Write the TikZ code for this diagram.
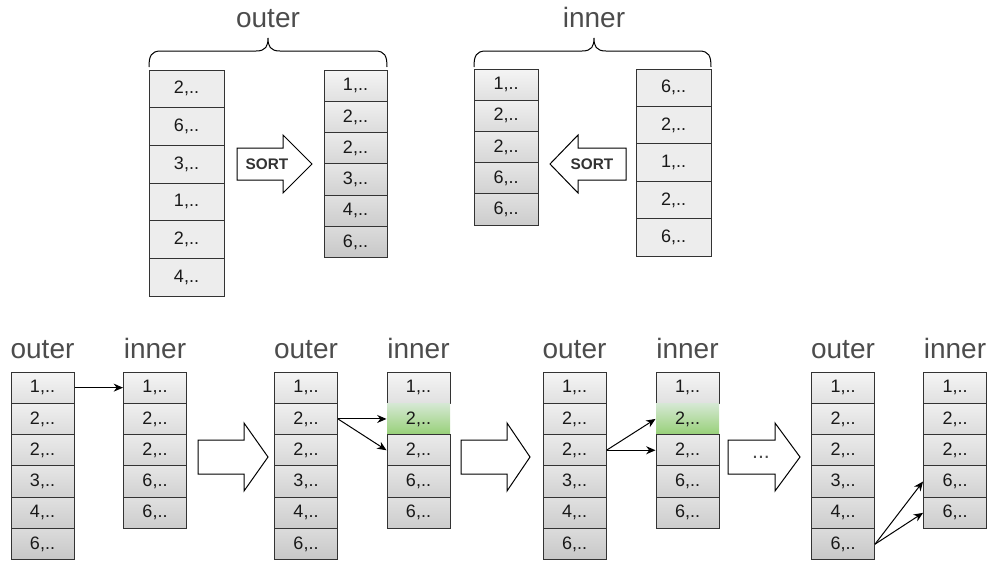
\documentclass[tikz,border=0pt]{standalone}
\usepackage{fontspec}
\setmainfont{Liberation Sans}
\usetikzlibrary{arrows.meta}

\definecolor{hittop}{HTML}{D5E8D4}
\definecolor{hitbot}{HTML}{97D077}
\newcommand{\px}{0.75pt}

\tikzset{
  cell/.style={rectangle, draw=black!80, line width=0.75pt, inner sep=0pt,
    text=black!90, font=\fontsize{13.5}{16}\selectfont},
  plain/.style={cell, fill=black!7},
  sorted/.style={cell, top color=black!\shtop, bottom color=black!\shbot},
  hit/.style={cell, draw=none, top color=hittop, bottom color=hitbot},
  title/.style={anchor=base, text=black!70, font=\fontsize{21}{25}\selectfont},
  link/.style={-{Stealth[length=7pt,width=6pt]}, line width=0.75pt},
  bigarrow/.style={draw=black, fill=white, line width=0.75pt, line join=miter},
  brace/.style={draw=black, line width=0.75pt},
  sortlabel/.style={text=black!80, font=\bfseries\fontsize{11.5}{13}\selectfont},
}

% a column of cells: prefix, x centre, y top, width, cell height, value/style list
\newcommand{\cellstack}[6]{%
  \foreach \val/\sty [count=\i] in {#6} {
    \pgfmathtruncatemacro\shtop{2+2*\i}
    \pgfmathtruncatemacro\shbot{10+2*\i}
    \node[\sty, minimum width=#4*\px, minimum height=#5*\px]
      (#1\i) at (#2,{-#3-(\i-0.5)*#5}) {\val,..};
  }
}

% curly brace over a pair of columns: left x, right x, cusp x
\newcommand{\topbrace}[3]{%
  \draw[brace] (#1,-67) .. controls (#1,-56) and ({#1+2},-51) .. ({#1+12},-51)
    -- ({#3-12},-51) .. controls ({#3-2},-51) and (#3,-46) .. (#3,-38)
    .. controls (#3,-46) and ({#3+2},-51) .. ({#3+12},-51)
    -- ({#2-12},-51) .. controls ({#2-2},-51) and (#2,-56) .. (#2,-67);
}

% block arrow: tail x, head x, tip x, centre y, shaft half, head half
\newcommand{\blockarrow}[6]{%
  \draw[bigarrow] (#1,{-#4+#5}) -- (#2,{-#4+#5}) -- (#2,{-#4+#6}) -- (#3,-#4)
    -- (#2,{-#4-#6}) -- (#2,{-#4-#5}) -- (#1,{-#4-#5}) -- cycle;
}

\begin{document}
\begin{tikzpicture}[x=\px, y=\px]
  \useasboundingbox (0,0) rectangle (988,-561);

  % sorting the two tables
  \node[title] (touter) at (268,-27) {outer};
  \node[title] (tinner) at (594,-27) {inner};
  \topbrace{149}{387}{268}
  \topbrace{474}{711}{594}

  \cellstack{ou}{186.5}{70}{75}{37.7}{2/plain,6/plain,3/plain,1/plain,2/plain,4/plain}
  \cellstack{os}{355.5}{70}{63}{31.3}{1/sorted,2/sorted,2/sorted,3/sorted,4/sorted,6/sorted}
  \cellstack{is}{506}{69}{64}{31.2}{1/sorted,2/sorted,2/sorted,6/sorted,6/sorted}
  \cellstack{iu}{673.5}{69}{75}{37.4}{6/plain,2/plain,1/plain,2/plain,6/plain}

  \blockarrow{237}{283}{312}{164}{16}{29}
  \node[sortlabel] (sortouter) at (267,-164) {SORT};
  \blockarrow{626}{578}{550}{164}{16}{29}
  \node[sortlabel] (sortinner) at (592,-164) {SORT};

  % merge steps
  \node[title] (aot) at (42.5,-358) {outer};
  \node[title] (ait) at (155,-358) {inner};
  \cellstack{ao}{42.5}{372}{63}{31.3}{1/sorted,2/sorted,2/sorted,3/sorted,4/sorted,6/sorted}
  \cellstack{ai}{155}{372}{63}{31.3}{1/sorted,2/sorted,2/sorted,6/sorted,6/sorted}
  \draw[link] (ao1.east) -- (ai1.west);

  \blockarrow{198}{244}{268}{457}{17}{34}

  \node[title] (bot) at (306,-358) {outer};
  \node[title] (bit) at (418.5,-358) {inner};
  \cellstack{bo}{306}{372}{63}{31.3}{1/sorted,2/sorted,2/sorted,3/sorted,4/sorted,6/sorted}
  \cellstack{bi}{418.5}{372}{63}{31.3}{1/sorted,2/hit,2/sorted,6/sorted,6/sorted}
  \draw[link] (bo2.east) -- (bi2.west);
  \draw[link] (bo2.east) -- (bi3.west);

  \blockarrow{461}{507}{530}{457}{17}{34}

  \node[title] (cot) at (574.5,-358) {outer};
  \node[title] (cit) at (687.5,-358) {inner};
  \cellstack{co}{574.5}{372}{63}{31.3}{1/sorted,2/sorted,2/sorted,3/sorted,4/sorted,6/sorted}
  \cellstack{ci}{687.5}{372}{63}{31.3}{1/sorted,2/hit,2/sorted,6/sorted,6/sorted}
  \draw[link] (co3.east) -- (ci2.west);
  \draw[link] (co3.east) -- (ci3.west);

  \blockarrow{728}{775}{800}{457}{17}{34}
  \node[text=black!70, font=\fontsize{16}{18}\selectfont] (skip) at (761,-457) {...};

  \node[title] (dot) at (843,-358) {outer};
  \node[title] (dit) at (955,-358) {inner};
  \cellstack{do}{843}{372}{63}{31.3}{1/sorted,2/sorted,2/sorted,3/sorted,4/sorted,6/sorted}
  \cellstack{di}{955}{372}{63}{31.3}{1/sorted,2/sorted,2/sorted,6/sorted,6/sorted}
  \draw[link] (do6.east) -- (di4.west);
  \draw[link] (do6.east) -- (di5.west);
\end{tikzpicture}
\end{document}
